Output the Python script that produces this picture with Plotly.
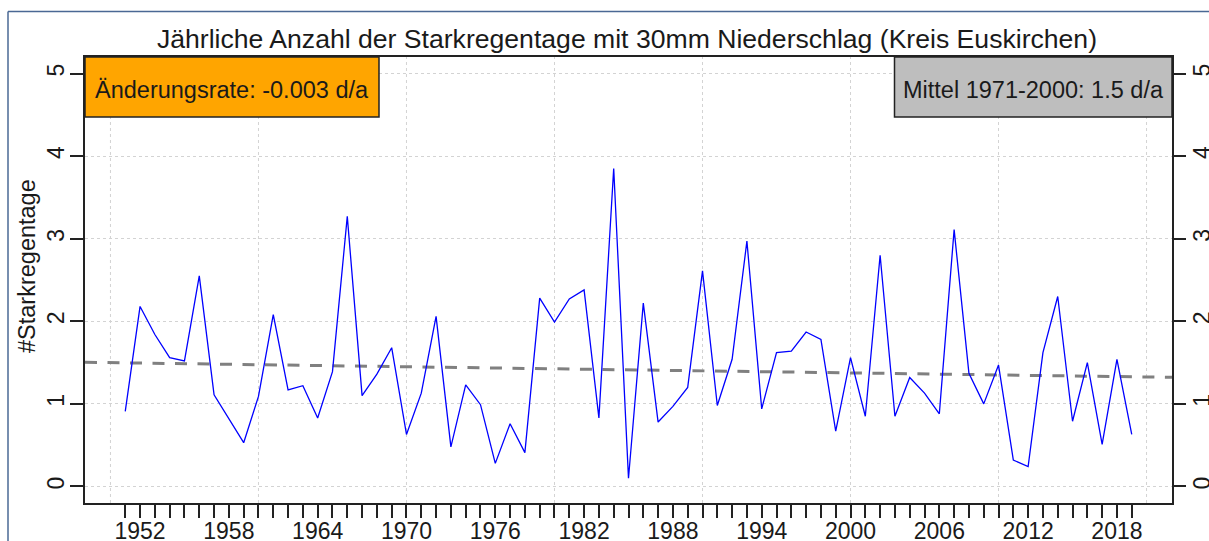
import numpy as np
import plotly.graph_objects as go

# ---------------- data ----------------
years = list(range(1951, 2020))
heavy_rain_days = [
    0.91, 2.18, 1.84, 1.56, 1.52, 2.55, 1.11, 0.82, 0.53, 1.09,
    2.08, 1.17, 1.22, 0.83, 1.39, 3.27, 1.10, 1.36, 1.68, 0.63,
    1.13, 2.06, 0.48, 1.23, 0.99, 0.28, 0.76, 0.41, 2.28, 1.99,
    2.27, 2.38, 0.83, 3.85, 0.10, 2.22, 0.78, 0.97, 1.20, 2.61,
    0.98, 1.54, 2.97, 0.94, 1.62, 1.64, 1.87, 1.78, 0.67, 1.56,
    0.85, 2.80, 0.85, 1.32, 1.13, 0.88, 3.11, 1.37, 1.00, 1.47,
    0.32, 0.24, 1.62, 2.30, 0.79, 1.50, 0.51, 1.54, 0.63,
]
labelled_years = list(range(1952, 2019, 6))
grid_years = list(range(1950, 2021, 10))
y_ticks = [0, 1, 2, 3, 4, 5]

title_text = "Jährliche Anzahl der Starkregentage mit 30mm Niederschlag (Kreis Euskirchen)"
y_title = "#Starkregentage"
rate_text = "Änderungsrate: -0.003 d/a"
mean_text = "Mittel 1971-2000: 1.5 d/a"

# ---------------- derived ----------------
x_pad = 0.04 * (years[-1] - years[0])
x_range = [years[0] - x_pad, years[-1] + x_pad]
y_range = [-0.2, 5.2]

slope, intercept = np.polyfit(years, heavy_rain_days, 1)
trend_x = x_range
trend_y = [slope * v + intercept for v in trend_x]

FONT = "Liberation Sans, Arial, sans-serif"
W, H = 1209, 541
ML, MR, MT, MB = 85, 37, 57, 38
PW, PH = W - ML - MR, H - MT - MB


def px_x(p):
    return (p - ML) / PW


def px_y(p):
    return (H - MB - p) / PH


fig = go.Figure()

fig.add_trace(go.Scatter(
    x=trend_x, y=trend_y, mode="lines",
    line=dict(color="#808080", width=3, dash="12px,10.5px"),
    hoverinfo="skip", showlegend=False,
))
fig.add_trace(go.Scatter(
    x=years, y=heavy_rain_days, mode="lines",
    line=dict(color="#0000FF", width=1.3),
    showlegend=False,
))
# invisible trace for the right-hand axis
fig.add_trace(go.Scatter(
    x=[years[0]], y=[heavy_rain_days[0]], yaxis="y2", mode="markers",
    marker=dict(opacity=0), hoverinfo="skip", showlegend=False,
))

shapes = []
for g in grid_years:
    shapes.append(dict(type="line", xref="x", yref="paper", x0=g, x1=g, y0=0, y1=1,
                       line=dict(color="#D3D3D3", width=1, dash="dot"), layer="below"))

# label boxes
shapes.append(dict(type="rect", xref="paper", yref="paper",
                   x0=0, x1=px_x(379), y0=px_y(117), y1=1,
                   fillcolor="#FFA500", line=dict(color="#222222", width=1.5), layer="above"))
shapes.append(dict(type="rect", xref="paper", yref="paper",
                   x0=px_x(894.5), x1=1, y0=px_y(117), y1=1,
                   fillcolor="#BEBEBE", line=dict(color="#222222", width=1.5), layer="above"))
# outer frame lines
shapes.append(dict(type="line", xref="paper", yref="paper",
                   x0=px_x(8), x1=px_x(1215), y0=px_y(11.5), y1=px_y(11.5),
                   line=dict(color="#4A6894", width=1.5)))
shapes.append(dict(type="line", xref="paper", yref="paper",
                   x0=px_x(8), x1=px_x(8), y0=px_y(11.5), y1=px_y(560),
                   line=dict(color="#4A6894", width=1.5)))

annotations = [
    dict(text=rate_text, xref="paper", yref="paper", x=px_x(232), y=px_y(90),
         xanchor="center", yanchor="middle", showarrow=False,
         font=dict(family=FONT, size=23.5, color="#1a1a1a")),
    dict(text=mean_text, xref="paper", yref="paper", x=px_x(1033), y=px_y(90),
         xanchor="center", yanchor="middle", showarrow=False,
         font=dict(family=FONT, size=23.5, color="#1a1a1a")),
    dict(text=y_title, xref="paper", yref="paper", x=px_x(27), y=px_y(266),
         xanchor="center", yanchor="middle", showarrow=False, textangle=-90,
         font=dict(family=FONT, size=23.5, color="#1a1a1a")),
]

tick_text = [str(y) if y in labelled_years else "" for y in years]

fig.update_layout(
    width=W, height=H,
    margin=dict(l=ML, r=MR, t=MT, b=MB, pad=0, autoexpand=False),
    paper_bgcolor="white", plot_bgcolor="white",
    title=dict(text=title_text, x=px_x(627), xref="paper", xanchor="center",
               y=1 - 39 / H, yanchor="middle", automargin=False,
               font=dict(family=FONT, size=26.6, color="#1a1a1a")),
    xaxis=dict(range=x_range, tickmode="array", tickvals=years, ticktext=tick_text,
               ticks="outside", ticklen=13, tickwidth=1.5, tickcolor="#222222",
               showgrid=False, zeroline=False, showline=True, mirror=True,
               linecolor="#222222", linewidth=1.5, automargin=False,
               ticklabelstandoff=-6,
               tickfont=dict(family=FONT, size=23, color="#1a1a1a")),
    yaxis=dict(range=y_range, tickmode="array", tickvals=y_ticks,
               ticks="outside", ticklen=13, tickwidth=1.5, tickcolor="#222222",
               tickangle=-90, showgrid=True, gridcolor="#D3D3D3", griddash="dot",
               gridwidth=1, zeroline=False, showline=True, mirror=True,
               linecolor="#222222", linewidth=1.5, automargin=False,
               ticklabelstandoff=-3,
               tickfont=dict(family=FONT, size=23, color="#1a1a1a")),
    yaxis2=dict(range=y_range, overlaying="y", side="right", tickmode="array",
                tickvals=y_ticks, ticks="outside", ticklen=13, tickwidth=1.5,
                tickcolor="#222222", tickangle=-90, showgrid=False, zeroline=False,
                showline=False, automargin=False, ticklabelstandoff=-4,
                tickfont=dict(family=FONT, size=23, color="#1a1a1a")),
    shapes=shapes,
    annotations=annotations,
    showlegend=False,
)

fig.write_html(
    "out.html",
    config={"displayModeBar": False},
    post_script="document.body.style.margin='0';document.body.style.overflow='hidden';",
)
